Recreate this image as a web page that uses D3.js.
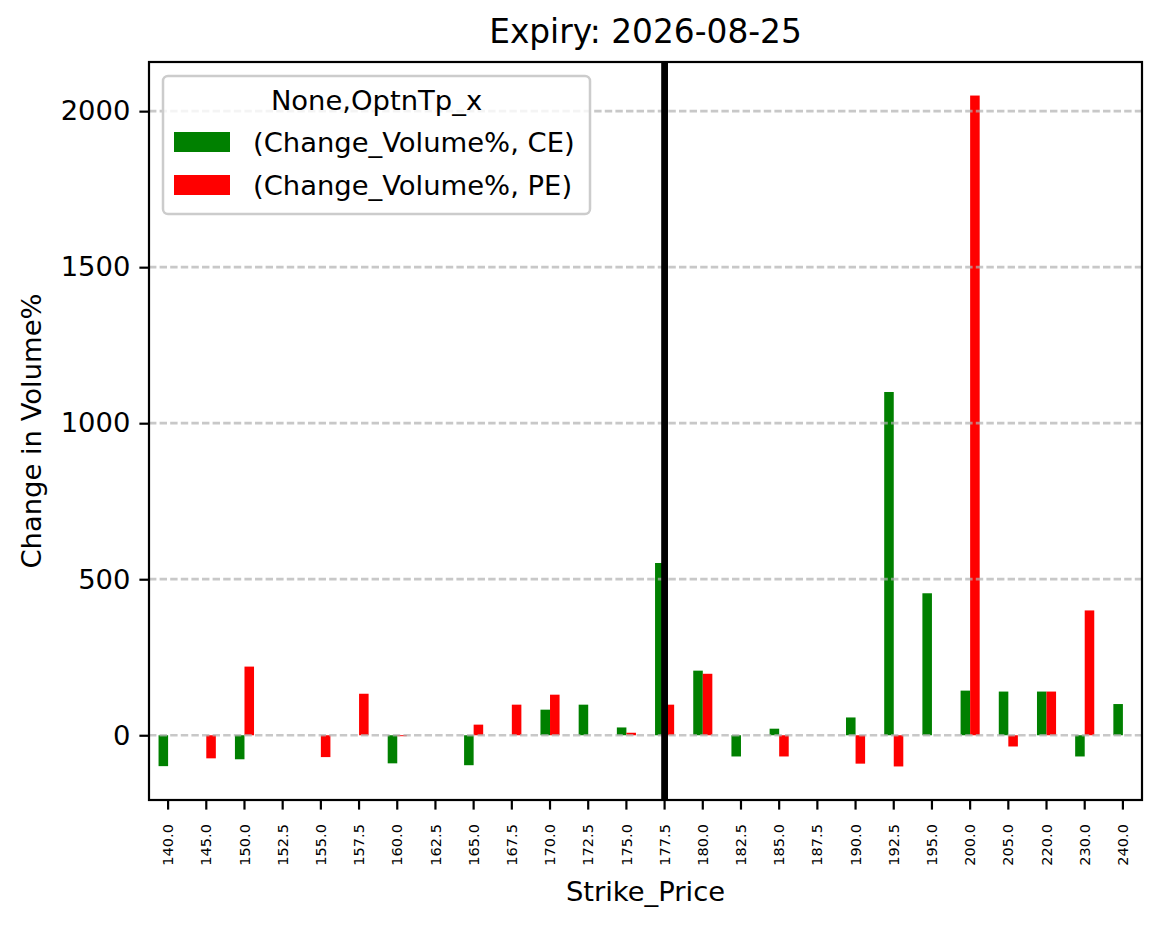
<!DOCTYPE html>
<html>
<head>
<meta charset="utf-8">
<script src="https://cdn.jsdelivr.net/npm/d3@7"></script>
<style>
  body { margin: 0; background: #fff; }
  text { font-family: 'DejaVu Sans', sans-serif; fill: #000; }
</style>
</head>
<body>
<div id="plotSection"></div>
<script>
// data
const strikes = ['140.0', '145.0', '150.0', '152.5', '155.0', '157.5', '160.0', '162.5', '165.0', '167.5',
    '170.0', '172.5', '175.0', '177.5', '180.0', '182.5', '185.0', '187.5', '190.0', '192.5',
    '195.0', '200.0', '205.0', '220.0', '230.0', '240.0']
const ceChange = [-99, null, -77, null, null, null, -90, null, -96, null,
    82, 98, 25, 552, 207, -68, 21, null, 57, 1100,
    455, 143, 140, 140, -68, 100]
const peChange = [null, -74, 220, null, -70, 133, -3, null, 34, 98,
    130, null, 8, 98, 197, null, -68, null, -91, -100,
    null, 2050, -36, 140, 400, null]
const yTicks = [0, 500, 1000, 1500, 2000]
const spotStrike = '177.5'
const seriesNames = ['(Change_Volume%, CE)', '(Change_Volume%, PE)']
const seriesColors = ['green', 'red']

const W = 1161, H = 928
const margin = { top: 62, right: 19, bottom: 128, left: 149 }
const width = W - margin.left - margin.right
const height = H - margin.top - margin.bottom

const svg = d3.select('#plotSection').append('svg')
    .attr('width', W)
    .attr('height', H)

const g = svg.append('g')
    .attr('transform', `translate(${margin.left},${margin.top})`)

const xScale = d3.scaleBand().domain(strikes).range([0, width]).padding(0)
const bw = xScale.bandwidth()
const xMid = d => xScale(d) + bw / 2

const yScale = d3.scaleLinear().domain([-207.5, 2157.5]).range([height, 0])

const rows = strikes.map((s, i) => ({ s, ce: ceChange[i], pe: peChange[i] }))

// bars
const barW = bw * 0.25
g.selectAll('.ce')
    .data(rows.filter(d => d.ce !== null))
    .enter().append('rect')
    .attr('class', 'ce')
    .attr('x', d => xMid(d.s) - barW)
    .attr('width', barW)
    .attr('y', d => yScale(Math.max(0, d.ce)))
    .attr('height', d => Math.abs(yScale(d.ce) - yScale(0)))
    .attr('fill', seriesColors[0])

g.selectAll('.pe')
    .data(rows.filter(d => d.pe !== null))
    .enter().append('rect')
    .attr('class', 'pe')
    .attr('x', d => xMid(d.s))
    .attr('width', barW)
    .attr('y', d => yScale(Math.max(0, d.pe)))
    .attr('height', d => Math.abs(yScale(d.pe) - yScale(0)))
    .attr('fill', seriesColors[1])

// grid sits above the bars like matplotlib's default
g.selectAll('.grid')
    .data(yTicks)
    .enter().append('line')
    .attr('class', 'grid')
    .attr('x1', 0)
    .attr('x2', width)
    .attr('y1', d => yScale(d))
    .attr('y2', d => yScale(d))
    .attr('stroke', '#b0b0b0')
    .attr('stroke-opacity', 0.7)
    .attr('stroke-width', 2.7)
    .attr('stroke-dasharray', '7.4,3.2')

// spot line
g.append('line')
    .attr('x1', xMid(spotStrike))
    .attr('x2', xMid(spotStrike))
    .attr('y1', 0)
    .attr('y2', height)
    .attr('stroke', '#000')
    .attr('stroke-width', 6.8)

// axes
const xAxis = d3.axisBottom(xScale).tickSize(9.6).tickPadding(0)
const yAxis = d3.axisLeft(yScale).tickValues(yTicks).tickSize(9.6).tickPadding(9).tickFormat(d3.format('d'))

const gx = g.append('g')
    .attr('transform', `translate(0,${height})`)
    .call(xAxis)
gx.select('.domain').remove()
gx.selectAll('.tick line').attr('stroke-width', 2.2)
gx.selectAll('.tick text')
    .attr('font-size', 14.6)
    .attr('transform', 'rotate(-90)')
    .attr('x', -24)
    .attr('y', 0)
    .attr('dy', '0.35em')
    .style('text-anchor', 'end')

const gy = g.append('g').call(yAxis)
gy.select('.domain').remove()
gy.selectAll('.tick line').attr('stroke-width', 2.2)
gy.selectAll('.tick text').attr('font-size', 27.4)

g.append('rect')
    .attr('width', width)
    .attr('height', height)
    .attr('fill', 'none')
    .attr('stroke', '#000')
    .attr('stroke-width', 2.2)

// labels
svg.append('text')
    .attr('x', margin.left + width / 2)
    .attr('y', 43)
    .attr('text-anchor', 'middle')
    .attr('font-size', 32.8)
    .text('Expiry: 2026-08-25')

svg.append('text')
    .attr('x', margin.left + width / 2)
    .attr('y', 901)
    .attr('text-anchor', 'middle')
    .attr('font-size', 27.4)
    .text('Strike_Price')

svg.append('text')
    .attr('transform', `translate(41,${margin.top + height / 2}) rotate(-90)`)
    .attr('text-anchor', 'middle')
    .attr('font-size', 27.4)
    .text('Change in Volume%')

// legend
const legend = svg.append('g').attr('class', 'legend')
legend.append('rect')
    .attr('x', 163)
    .attr('y', 76)
    .attr('width', 427)
    .attr('height', 138)
    .attr('rx', 5)
    .attr('fill', '#fff')
    .attr('fill-opacity', 0.8)
    .attr('stroke', '#cccccc')
    .attr('stroke-width', 2.5)

legend.append('text')
    .attr('x', 376.5)
    .attr('y', 110)
    .attr('text-anchor', 'middle')
    .attr('font-size', 27.4)
    .text('None,OptnTp_x')

const items = legend.selectAll('.item')
    .data(seriesNames)
    .enter().append('g')
    .attr('class', 'item')
    .attr('transform', (d, i) => `translate(0,${142 + i * 43})`)

items.append('rect')
    .attr('x', 174)
    .attr('y', -10)
    .attr('width', 56)
    .attr('height', 20)
    .attr('fill', (d, i) => seriesColors[i])

items.append('text')
    .attr('x', 253)
    .attr('y', 0)
    .attr('dy', '0.35em')
    .attr('font-size', 27.4)
    .text(d => d)
</script>
</body>
</html>
